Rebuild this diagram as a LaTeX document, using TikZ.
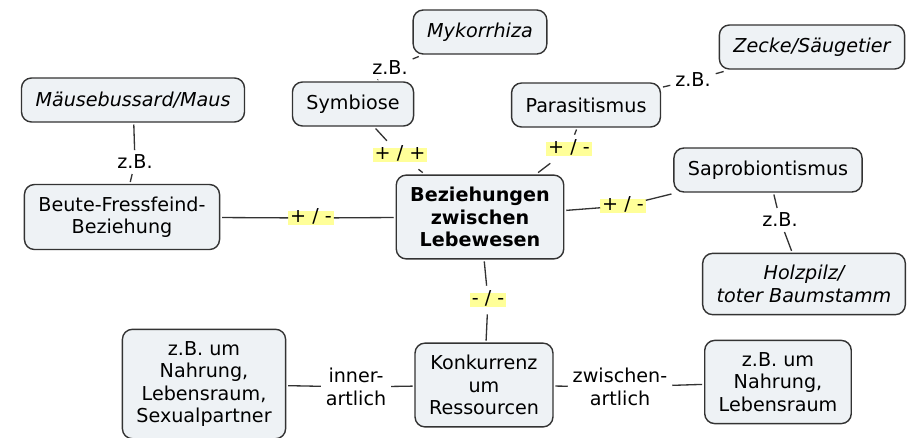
\documentclass[tikz,border=0pt]{standalone}
\usepackage{fontspec}
\setmainfont{DejaVu Sans}
\usepackage{tikz}
\usetikzlibrary{positioning}
\definecolor{boxfill}{HTML}{EEF2F5}
\definecolor{boxline}{HTML}{333333}
\definecolor{hilite}{HTML}{FFFF99}
\tikzset{
    concept/.style = {
        draw=boxline,
        fill=boxfill,
        shape=rectangle,
        rounded corners=0.2cm,
        align=center,
        inner xsep=0.28cm,
        inner ysep=0.24cm,
        minimum height=0.88cm,
        outer sep=0.05cm,
        line width=0.8pt
    },
    linkword/.style = {
        shape=rectangle,
        align=center,
        inner sep=0pt,
        outer sep=0.1cm
    },
    pair/.style = {
        shape=rectangle,
        fill=hilite,
        inner xsep=0.04cm,
        inner ysep=0pt,
        text height=0.68em,
        text depth=0.15em,
        outer xsep=0pt,
        outer ysep=0.14cm
    },
    every path/.style = {
        line width=0.75pt,
        color=boxline
    }
}

\begin{document}
\begin{tikzpicture}[x=0.02cm, y=-0.02cm, every node/.style={font=\fontsize{10.9}{12.8}\selectfont, text=black}]
                \useasboundingbox (0,0) rectangle (910,437);

                % concepts
                \node[concept, font=\fontsize{10.9}{12.8}\selectfont\bfseries] (bez) at (480,217) {Beziehungen\\zwischen\\Lebewesen};
                \node[concept] (sym) at (353,104) {Symbiose};
                \node[concept, font=\fontsize{10.9}{12.8}\selectfont\itshape] (myk) at (480,32) {Mykorrhiza};
                \node[concept] (par) at (586,105) {Parasitismus};
                \node[concept, font=\fontsize{10.9}{12.8}\selectfont\itshape] (zecke) at (812,47) {Zecke/Säugetier};
                \node[concept] (sap) at (768,170) {Saprobiontismus};
                \node[concept, font=\fontsize{10.9}{12.8}\selectfont\itshape] (holz) at (804,284) {Holzpilz/\\toter Baumstamm};
                \node[concept] (beute) at (122,217) {Beute-Fressfeind-\\Beziehung};
                \node[concept, font=\fontsize{10.9}{12.8}\selectfont\itshape] (maus) at (133,100) {Mäusebussard/Maus};
                \node[concept] (konk) at (484,385) {Konkurrenz\\um\\Ressourcen};
                \node[concept] (intra) at (204,384) {z.B. um\\Nahrung,\\Lebensraum,\\Sexualpartner};
                \node[concept] (inter) at (778,382) {z.B. um\\Nahrung,\\Lebensraum};

                % linking words
                \node[pair] (psym) at (400,155) {+ / +};
                \node[linkword] (zbmyk) at (390,68) {z.B.};
                \node[linkword] (zbmaus) at (135,162) {z.B.};
                \node[pair] (pbeute) at (311,218) {+ / -};
                \node[pair] (ppar) at (569,149) {+ / -};
                \node[linkword] (zbzecke) at (693,80) {z.B.};
                \node[pair] (psap) at (623,206) {+ / -};
                \node[linkword] (zbholz) at (780,220) {z.B.};
                \node[pair] (pkonk) at (488,300) {- / -};
                \node[linkword] (lintra) at (356,387) {inner-\\artlich};
                \node[linkword] (linter) at (620,387) {zwischen-\\artlich};

                \path[draw] (sym) -- (psym);
                \path[draw] (psym) -- (bez);
                \path[draw] (sym) -- (zbmyk);
                \path[draw] (zbmyk) -- (myk);
                \path[draw] (maus) -- (zbmaus);
                \path[draw] (zbmaus) -- (beute);
                \path[draw] (beute) -- (pbeute);
                \path[draw] (pbeute) -- (bez);
                \path[draw] (bez) -- (ppar);
                \path[draw] (ppar) -- (par);
                \path[draw] (par) -- (zbzecke);
                \path[draw] (zbzecke) -- (zecke);
                \path[draw] (bez) -- (psap);
                \path[draw] (psap) -- (sap);
                \path[draw] (sap) -- (zbholz);
                \path[draw] (zbholz) -- (holz);
                \path[draw] (bez) -- (pkonk);
                \path[draw] (pkonk) -- (konk);
                \path[draw] (konk) -- (lintra);
                \path[draw] (lintra) -- (intra);
                \path[draw] (konk) -- (linter);
                \path[draw] (linter) -- (inter);
\end{tikzpicture}
\end{document}
